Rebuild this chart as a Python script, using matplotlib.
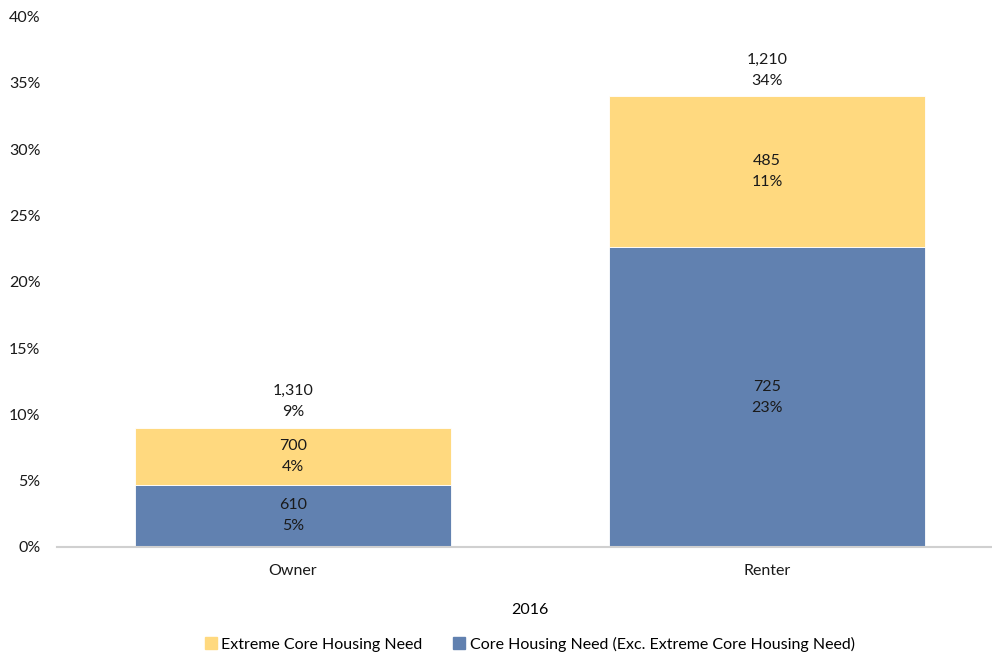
import matplotlib
matplotlib.use('Agg')

import matplotlib.pyplot as plt
from matplotlib.ticker import FuncFormatter
from matplotlib.patches import Patch
import numpy as np

plt.rcParams['font.family'] = ['Lato', 'DejaVu Sans']
plt.rcParams['font.size'] = 11.5

# households in core housing need by tenure, 2016
tenure = ['Owner', 'Renter']
core_pct = [4.7, 22.6]          # share of households (%)
extreme_pct = [4.3, 11.4]
core_count = [610, 725]
extreme_count = [700, 485]
total_count = [1310, 1210]

BLUE = '#6181b0'
YELLOW = '#ffd97f'
AXIS_GREY = '#d0d0d0'

fig = plt.figure(figsize=(9.92, 6.54), dpi=100)
ax = fig.add_axes([57 / 992, 107 / 654, 935 / 992, 530.4 / 654])

x = np.arange(len(tenure))
width = 0.667

core_bars = ax.bar(x, core_pct, width, color=BLUE, edgecolor='white', linewidth=0.6)
ext_bars = ax.bar(x, extreme_pct, width, bottom=core_pct, color=YELLOW,
                  edgecolor='white', linewidth=0.6)

# labels inside each segment: count on top, share below
for bars, counts, pcts, bottoms in [(core_bars, core_count, core_pct, [0, 0]),
                                    (ext_bars, extreme_count, extreme_pct, core_pct)]:
    for b, n, p, b0 in zip(bars, counts, pcts, bottoms):
        ax.text(b.get_x() + b.get_width() / 2, b0 + p / 2,
                '{:,}\n{:.0f}%'.format(n, p), ha='center', va='center',
                linespacing=1.65, color='#1a1a1a')

# totals above the stacks
for i, n in enumerate(total_count):
    top = core_pct[i] + extreme_pct[i]
    ax.annotate('{:,}\n{:.0f}%'.format(n, top), xy=(x[i], top),
                xytext=(0, 6), textcoords='offset points',
                ha='center', va='bottom', linespacing=1.65, color='#1a1a1a')

ax.set_xlim(-0.498, 1.475)
ax.set_ylim(0, 40)
ax.set_yticks(np.arange(0, 41, 5))
ax.yaxis.set_major_formatter(FuncFormatter(lambda v, pos: '{:.0f}%'.format(v)))
ax.set_xticks(x)
ax.set_xticklabels(tenure)
ax.set_xlabel('2016', labelpad=16)
ax.xaxis.set_label_coords(0.506, -0.105)

for side in ['top', 'right', 'left']:
    ax.spines[side].set_visible(False)
ax.spines['bottom'].set_color(AXIS_GREY)
ax.spines['bottom'].set_linewidth(1.5)
ax.tick_params(axis='both', length=0, colors='#1a1a1a')
ax.tick_params(axis='y', pad=12)
ax.tick_params(axis='x', pad=12)

handles = [Patch(color=YELLOW, label='Extreme Core Housing Need'),
           Patch(color=BLUE, label='Core Housing Need (Exc. Extreme Core Housing Need)')]
fig.legend(handles=handles, loc='center', bbox_to_anchor=(0.534, 10 / 654), ncol=2,
           frameon=False, handlelength=0.75, handleheight=0.75, handletextpad=0.3,
           columnspacing=1.9)

plt.savefig('out.png', dpi=100)
